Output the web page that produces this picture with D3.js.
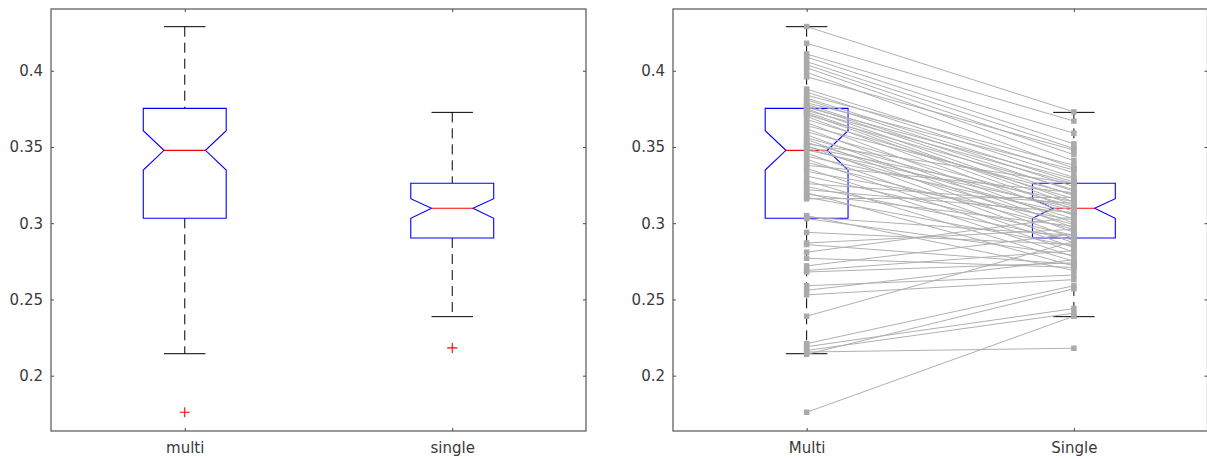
<!DOCTYPE html>
<html>
<head>
<meta charset="UTF-8">
<script src="https://d3js.org/d3.v7.min.js"></script>
<style>
  body { margin: 0; background: #fff; }
  .tick text { font: 15px "DejaVu Sans", sans-serif; fill: #3a3a3a; }
  .tick line { stroke: #444; }
  .frame { fill: none; stroke: #555; stroke-width: 1.2px; }
</style>
</head>
<body>
<div id="chart"></div>
<script>
// categories and tick labels
const leftCategories = ["multi", "single"];
const rightCategories = ["Multi", "Single"];
const yTicks = [0.2, 0.25, 0.3, 0.35, 0.4];

// box statistics (multi, single)
const whiskerHigh = [0.4289, 0.3727];
const q3 = [0.3753, 0.3262];
const notchHigh = [0.3607, 0.3161];
const median = [0.3478, 0.3098];
const notchLow = [0.3349, 0.3032];
const q1 = [0.3032, 0.2903];
const whiskerLow = [0.2144, 0.2387];
const outliers = [[0.176], [0.2182]];

// paired values, one per subject (right panel)
const multiValues = [
  0.429, 0.418, 0.411, 0.409, 0.406, 0.404, 0.402, 0.399, 0.396, 0.388,
  0.386, 0.384, 0.382, 0.381, 0.379, 0.378, 0.377, 0.376, 0.375, 0.374,
  0.373, 0.372, 0.371, 0.370, 0.368, 0.366, 0.364, 0.362, 0.360, 0.358,
  0.356, 0.355, 0.353, 0.352, 0.351, 0.350, 0.349, 0.348, 0.346, 0.344,
  0.342, 0.340, 0.338, 0.336, 0.334, 0.331, 0.328, 0.326, 0.324, 0.322,
  0.320, 0.319, 0.317, 0.316, 0.305, 0.304, 0.303, 0.294, 0.287, 0.286,
  0.281, 0.277, 0.272, 0.269, 0.268, 0.259, 0.256, 0.253, 0.239, 0.221,
  0.219, 0.2165, 0.2155, 0.214, 0.176
];
const singleValues = [
  0.373, 0.367, 0.359, 0.352, 0.349, 0.345, 0.341, 0.336, 0.348, 0.333,
  0.330, 0.338, 0.327, 0.324, 0.335, 0.321, 0.318, 0.329, 0.314, 0.326,
  0.312, 0.309, 0.322, 0.305, 0.316, 0.300, 0.319, 0.297, 0.311, 0.294,
  0.308, 0.290, 0.303, 0.326, 0.287, 0.314, 0.299, 0.310, 0.284, 0.306,
  0.281, 0.296, 0.320, 0.278, 0.302, 0.292, 0.275, 0.313, 0.289, 0.307,
  0.272, 0.298, 0.285, 0.317, 0.269, 0.292, 0.279, 0.286, 0.296, 0.273,
  0.304, 0.271, 0.293, 0.282, 0.274, 0.266, 0.276, 0.263, 0.288, 0.259,
  0.244, 0.241, 0.218, 0.257, 0.239
];

const W = 1207, H = 459;
const svg = d3.select("#chart").append("svg")
  .attr("width", W).attr("height", H)
  .style("display", "block");
svg.append("rect").attr("width", W).attr("height", H).attr("fill", "#fff");

const y = d3.scaleLinear().domain([0.1637, 0.4405]).range([431, 9]);

function drawPanel(x0, x1, cats, paired) {
  const x = d3.scaleLinear().domain([0.5, 2.5]).range([x0, x1]);
  const g = svg.append("g");
  const half = x(1.155) - x(1);
  const cap = half / 2;

  // boxes
  [0, 1].forEach(i => {
    const cx = x(i + 1);
    // whiskers
    g.append("line").attr("x1", cx).attr("x2", cx)
      .attr("y1", y(whiskerHigh[i])).attr("y2", y(q3[i]))
      .attr("stroke", "#000").attr("stroke-dasharray", "10,6");
    g.append("line").attr("x1", cx).attr("x2", cx)
      .attr("y1", y(q1[i])).attr("y2", y(whiskerLow[i]))
      .attr("stroke", "#000").attr("stroke-dasharray", "10,6");
    g.append("line").attr("x1", cx - cap).attr("x2", cx + cap)
      .attr("y1", y(whiskerHigh[i])).attr("y2", y(whiskerHigh[i]))
      .attr("stroke", "#000");
    g.append("line").attr("x1", cx - cap).attr("x2", cx + cap)
      .attr("y1", y(whiskerLow[i])).attr("y2", y(whiskerLow[i]))
      .attr("stroke", "#000");
    // notched box
    const pts = [
      [cx - half, y(q1[i])], [cx - half, y(notchLow[i])], [cx - half / 2, y(median[i])],
      [cx - half, y(notchHigh[i])], [cx - half, y(q3[i])], [cx + half, y(q3[i])],
      [cx + half, y(notchHigh[i])], [cx + half / 2, y(median[i])], [cx + half, y(notchLow[i])],
      [cx + half, y(q1[i])]
    ];
    g.append("path").attr("d", d3.line()(pts) + "Z")
      .attr("fill", "none").attr("stroke", "#0000ff").attr("stroke-width", 1.1);
    g.append("line").attr("x1", cx - half / 2).attr("x2", cx + half / 2)
      .attr("y1", y(median[i])).attr("y2", y(median[i]))
      .attr("stroke", "#ff0000").attr("stroke-width", 1.1);
    // outliers
    if (!paired) {
      outliers[i].forEach(v => {
        const oy = y(v);
        g.append("path")
          .attr("d", `M${cx - 5},${oy}H${cx + 5}M${cx},${oy - 5}V${oy + 5}`)
          .attr("stroke", "#ff0000").attr("stroke-width", 1.1);
      });
    }
  });

  if (paired) {
    const grey = "#b0b0b0";
    g.selectAll(".pair").data(multiValues).enter().append("line")
      .attr("x1", x(1)).attr("x2", x(2))
      .attr("y1", d => y(d)).attr("y2", (d, i) => y(singleValues[i]))
      .attr("stroke", grey).attr("stroke-width", 1);
    const s = 5.5;
    [multiValues, singleValues].forEach((vals, k) => {
      g.selectAll(".m" + k).data(vals).enter().append("rect")
        .attr("x", x(k + 1) - s / 2).attr("y", d => y(d) - s / 2)
        .attr("width", s).attr("height", s).attr("fill", "#aaaaaa");
    });
  }

  // axes
  const fmt = d => String(d);
  g.append("g").attr("transform", `translate(${x0},0)`)
    .call(d3.axisLeft(y).tickValues(yTicks).tickFormat(fmt).tickSizeInner(-3).tickSizeOuter(0).tickPadding(8))
    .call(a => a.select(".domain").remove());
  g.append("g").attr("transform", `translate(${x1},0)`)
    .call(d3.axisRight(y).tickValues(yTicks).tickFormat("").tickSizeInner(-3).tickSizeOuter(0))
    .call(a => a.select(".domain").remove());
  g.append("g").attr("transform", `translate(0,${y.range()[0]})`)
    .call(d3.axisBottom(x).tickValues([1, 2]).tickFormat(d => cats[d - 1]).tickSizeInner(-3).tickSizeOuter(0).tickPadding(11))
    .call(a => a.select(".domain").remove());
  g.append("g").attr("transform", `translate(0,${y.range()[1]})`)
    .call(d3.axisTop(x).tickValues([1, 2]).tickFormat("").tickSizeInner(-3).tickSizeOuter(0))
    .call(a => a.select(".domain").remove());
  g.selectAll(".tick text").attr("fill", "#3a3a3a");

  g.append("rect").attr("class", "frame")
    .attr("x", x0).attr("y", y.range()[1])
    .attr("width", x1 - x0).attr("height", y.range()[0] - y.range()[1]);
}

drawPanel(51, 586, leftCategories, false);
drawPanel(673, 1207.5, rightCategories, true);
</script>
</body>
</html>
